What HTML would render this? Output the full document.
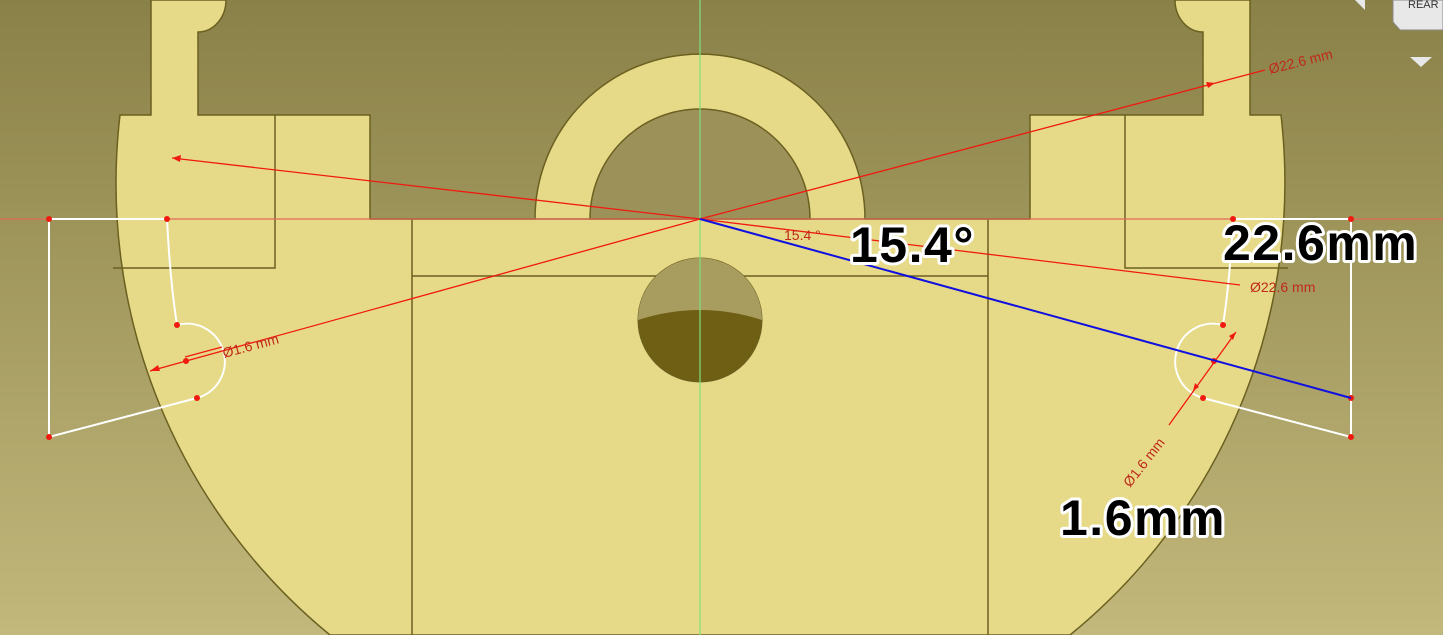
<!DOCTYPE html>
<html><head><meta charset="utf-8"><style>
html,body{margin:0;padding:0;width:1443px;height:635px;overflow:hidden}
svg{display:block}
.big{font-family:"Liberation Sans",sans-serif;font-weight:bold;font-size:50px;letter-spacing:1.5px;fill:#000;stroke:#fff;stroke-width:6px;paint-order:stroke;stroke-linejoin:round}
.sm{font-family:"Liberation Sans",sans-serif;font-size:14px;fill:#c0281a}
</style></head><body>
<svg width="1443" height="635" viewBox="0 0 1443 635">
<defs><linearGradient id="bg" x1="0" y1="0" x2="0" y2="1"><stop offset="0" stop-color="#8a8148"/><stop offset="1" stop-color="#c2b87c"/></linearGradient></defs>
<rect width="1443" height="635" fill="url(#bg)"/>
<g fill="#e6da88" stroke="#6b6020" stroke-width="1.5">
<path d="M151 0 L226 0 A28 32 0 0 1 198 32 L198 115 L370 115 L370 219 L535 219 A165 165 0 0 1 865 219 L1030 219 L1030 115 L1203 115 L1203 32 A28 32 0 0 1 1175 0 L1250 0 L1250 115 L1281 115 A584 584 0 0 1 1070 635 L330 635 A584 584 0 0 1 120 115 L151 115 Z"/>
<path d="M590 219 A110 110 0 0 1 810 219 Z" fill="#9c9158"/>
<path d="M113 268 L275 268 L275 115 M1125 115 L1125 268 L1288 268 M412 219 L412 635 M988 219 L988 635 M412 276 L988 276 M370 219 L1030 219" fill="none"/>
</g>
<g>
<circle cx="700" cy="320" r="62" fill="#6e5f14" stroke="#6b6020"/>
<path d="M638 320 A62 62 0 0 1 762 320 Q700 300 638 320 Z" fill="#a89c5e"/>
</g>
<line x1="0" y1="219" x2="1443" y2="219" stroke="#e26a5a" stroke-width="1.2"/>
<line x1="700" y1="0" x2="700" y2="635" stroke="#7fe07f" stroke-width="1.2"/>
<g fill="none" stroke="#fff" stroke-width="2">
<path d="M49 219 L167 219 Q170 280 177 325 A36 36 0 0 1 197 398 L49 437 Z"/>
</g>
<g fill="none" stroke="#fff" stroke-width="2">
<path d="M1351 219 L1233 219 Q1230 280 1223 325 A36 36 0 0 0 1203 398 L1351 437 Z"/>
</g>
<g fill="#f01a10">
<circle cx="49" cy="219" r="3"/><circle cx="167" cy="219" r="3"/><circle cx="177" cy="325" r="3"/><circle cx="197" cy="398" r="3"/><circle cx="49" cy="437" r="3"/><circle cx="186" cy="361" r="3"/>
<circle cx="1351" cy="219" r="3"/><circle cx="1233" cy="219" r="3"/><circle cx="1223" cy="325" r="3"/><circle cx="1203" cy="398" r="3"/><circle cx="1351" cy="437" r="3"/><circle cx="1351" cy="398" r="3"/><circle cx="1214" cy="361" r="3"/>
</g>
<g stroke="#f01a10" stroke-width="1.3" fill="none">
<line x1="700" y1="219" x2="172" y2="158"/>
<line x1="700" y1="219" x2="1265" y2="70"/>
<line x1="700" y1="219" x2="150" y2="371"/>
<line x1="700" y1="219" x2="1240" y2="285"/>
<line x1="185" y1="357" x2="222" y2="347"/>
<line x1="1169" y1="425" x2="1236" y2="332"/>
</g>
<g fill="#f01a10">
<path d="M172 158 L181 155 L180 162 Z"/>
<path d="M1215 83 L1206 82 L1208 88 Z"/>
<path d="M150 371 L158 365 L160 371 Z"/>
<path d="M1236 332 L1229 336 L1233 340 Z"/>
<path d="M1193 391 L1195 383 L1199 387 Z"/>
</g>
<line x1="700" y1="219" x2="1351" y2="398" stroke="#1010e0" stroke-width="2"/>
<g class="sm">
<text x="1270" y="74" transform="rotate(-14 1270 74)">Ø22.6 mm</text>
<text x="1250" y="292">Ø22.6 mm</text>
<text x="224" y="358" transform="rotate(-15 224 358)">Ø1.6 mm</text>
<text x="1130" y="488" transform="rotate(-52 1130 488)">Ø1.6 mm</text>
<text x="784" y="240">15.4 °</text>
</g>
<text class="big" x="850" y="262">15.4°</text>
<text class="big" x="1223" y="260">22.6mm</text>
<text class="big" x="1060" y="535">1.6mm</text>
<g>
<path d="M1393 0 L1443 0 L1443 30 L1400 30 L1393 22 Z" fill="#e8e8e8" stroke="#888"/>
<text x="1408" y="8" font-family="Liberation Sans,sans-serif" font-size="11" fill="#333">REAR</text>
<path d="M1410 57 L1432 57 L1421 67 Z" fill="#e8e8e8"/>
<path d="M1355 0 L1365 10 L1365 0 Z" fill="#e8e8e8"/>
</g>
</svg>
</body></html>
